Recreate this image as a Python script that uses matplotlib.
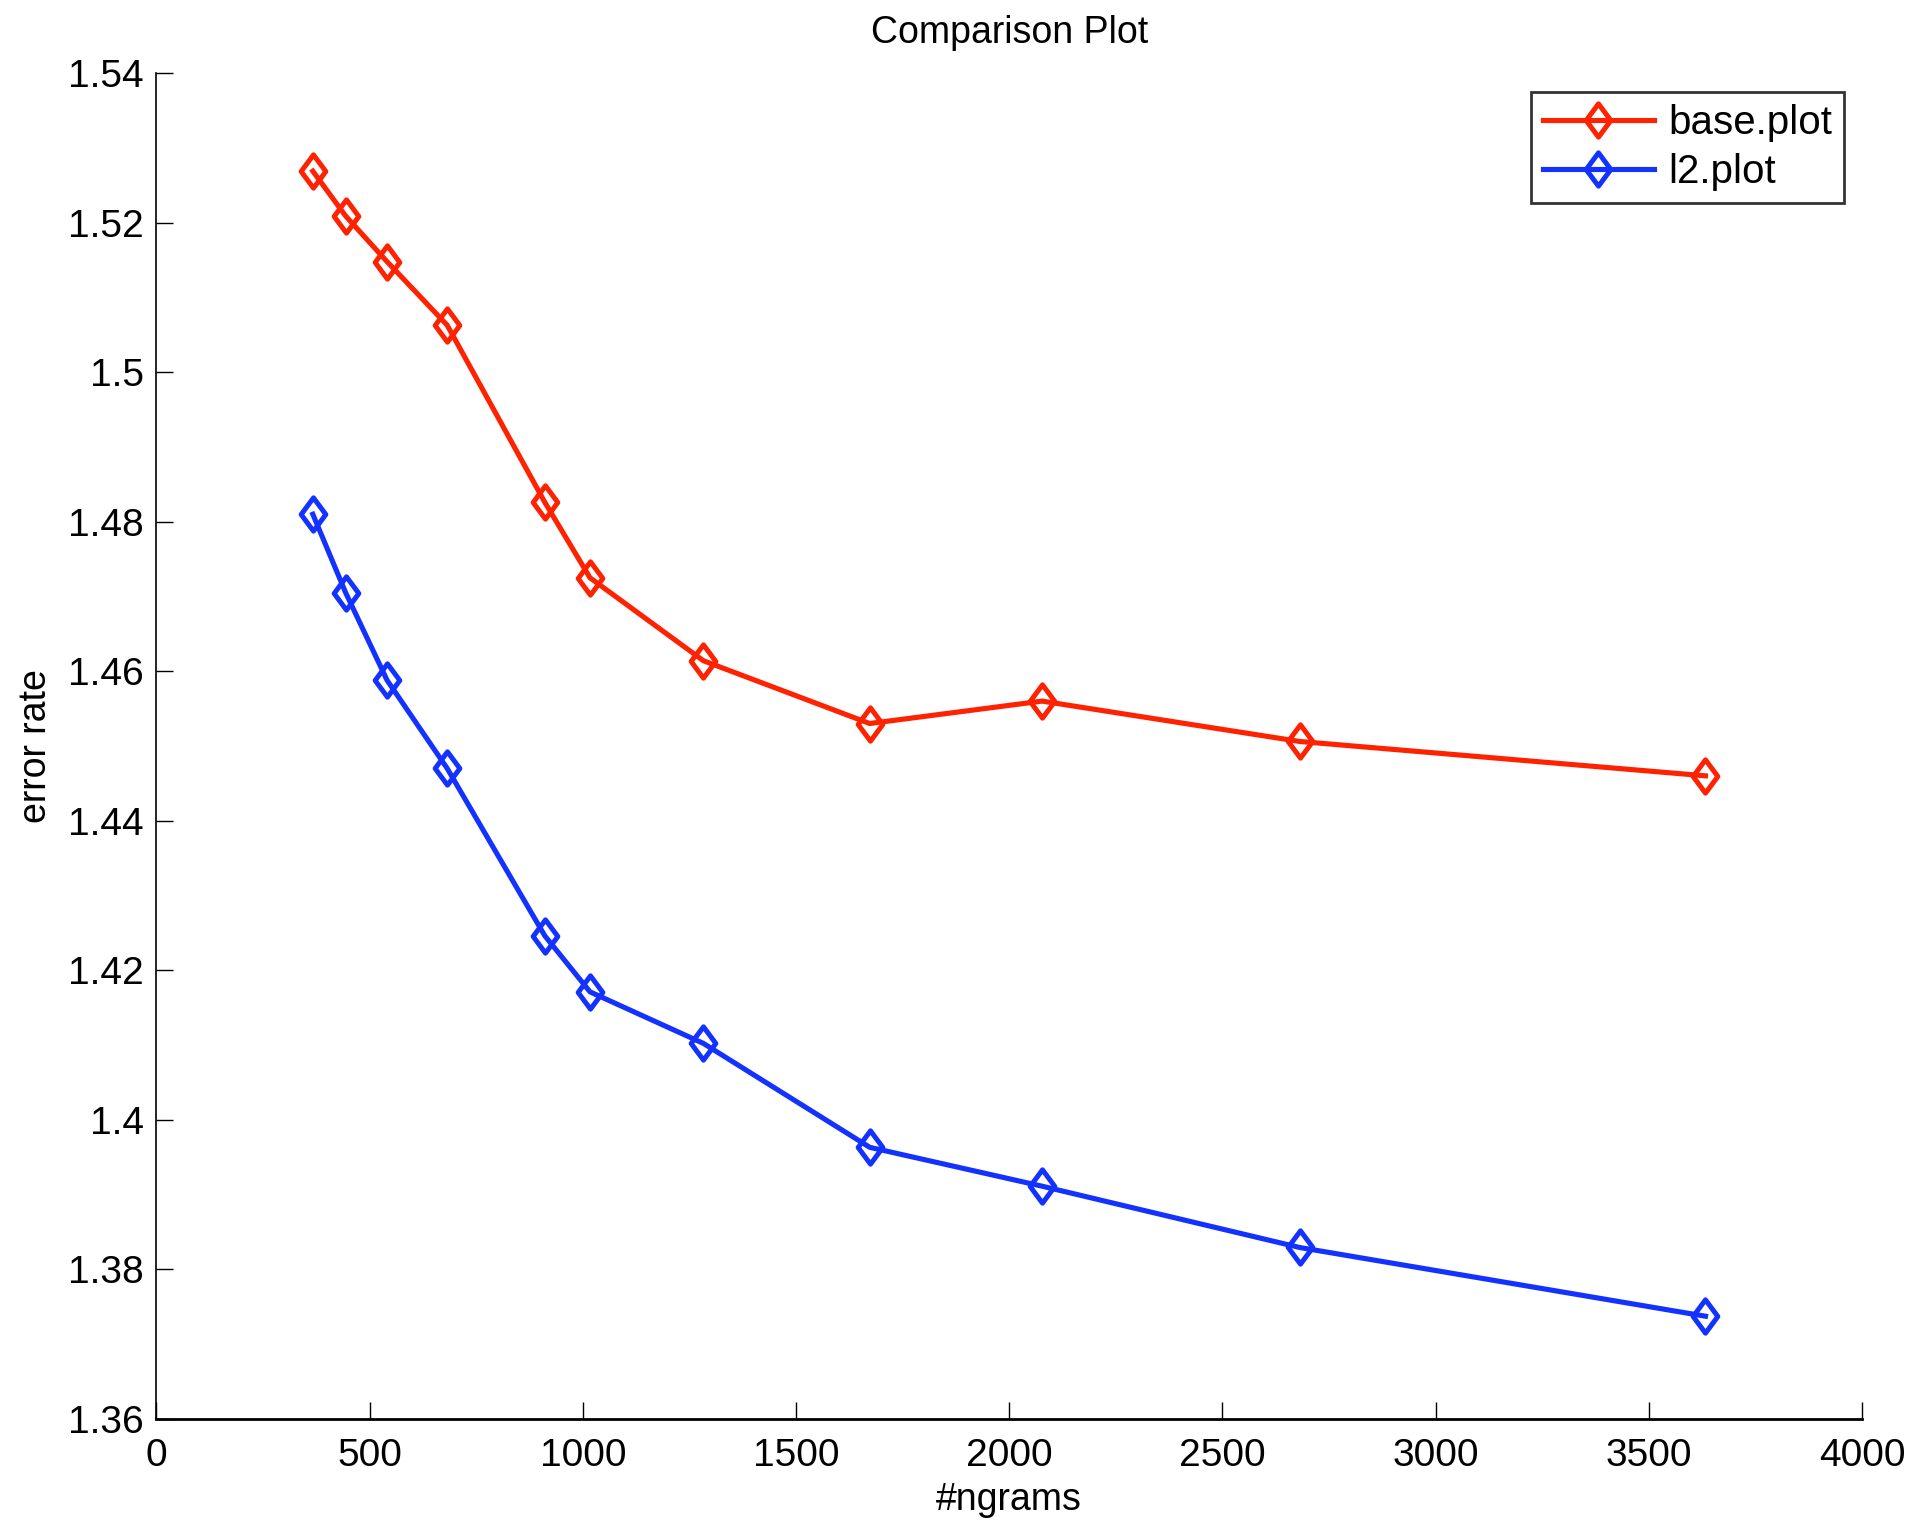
import matplotlib
matplotlib.use("Agg")
import matplotlib.pyplot as plt
from matplotlib.path import Path

plt.rcParams['font.family'] = ['Liberation Sans', 'DejaVu Sans']

ngrams = [367, 444, 541, 682, 911, 1017, 1283, 1673, 2077, 2681, 3633]
base_plot = [1.5269, 1.5209, 1.5148, 1.5063, 1.4826, 1.4725, 1.4614, 1.4530, 1.4560, 1.4506, 1.4460]
l2_plot = [1.4810, 1.4705, 1.4588, 1.4470, 1.4246, 1.4171, 1.4102, 1.3963, 1.3911, 1.3829, 1.3737]
series_names = ['base.plot', 'l2.plot']
x_ticks = [0, 500, 1000, 1500, 2000, 2500, 3000, 3500, 4000]
y_ticks = [1.36, 1.38, 1.40, 1.42, 1.44, 1.46, 1.48, 1.50, 1.52, 1.54]
y_tick_labels = ['1.36', '1.38', '1.4', '1.42', '1.44', '1.46', '1.48', '1.5', '1.52', '1.54']

diamond = Path([(0, 1), (0.74, 0), (0, -1), (-0.74, 0), (0, 1)],
               [Path.MOVETO, Path.LINETO, Path.LINETO, Path.LINETO, Path.CLOSEPOLY])

fig = plt.figure(figsize=(19.16, 15.2), dpi=100)
ax = fig.add_axes([0.0816, 0.0667, 0.9718 - 0.0816, 0.9518 - 0.0667])

for ys, col, name in [(base_plot, '#ff2200', series_names[0]), (l2_plot, '#1432ff', series_names[1])]:
    ax.plot(ngrams, ys, color=col, lw=3.7, marker=diamond, markersize=24,
            markerfacecolor='none', markeredgecolor=col, markeredgewidth=3.6,
            label=name, solid_joinstyle='miter')

ax.set_xlim(0, 4000)
ax.set_ylim(1.36, 1.54)
ax.set_xticks(x_ticks)
ax.set_xticklabels([str(t) for t in x_ticks])
ax.set_yticks(y_ticks)
ax.set_yticklabels(y_tick_labels)
ax.spines['top'].set_visible(False)
ax.spines['right'].set_visible(False)
ax.spines['left'].set_linewidth(1.2)
ax.spines['bottom'].set_linewidth(2.0)
ax.tick_params(direction='in', length=12, width=1.0, labelsize=28)
ax.tick_params(axis='x', pad=14)
ax.tick_params(axis='y', pad=9)

ax.set_title('Comparison Plot', fontsize=27, pad=22)
ax.set_xlabel('#ngrams', fontsize=27, labelpad=6)
ax.set_ylabel('error rate', fontsize=27, labelpad=10)

leg = ax.legend(loc='upper right', bbox_to_anchor=(0.9894, 0.9863), fontsize=29,
                frameon=True, fancybox=False, edgecolor='black', handlelength=2.75,
                borderpad=0.3, labelspacing=0.28, handletextpad=0.35, borderaxespad=0.0)
leg.get_frame().set_linewidth(2.0)

fig.savefig('out.png', dpi=100, facecolor='white')
